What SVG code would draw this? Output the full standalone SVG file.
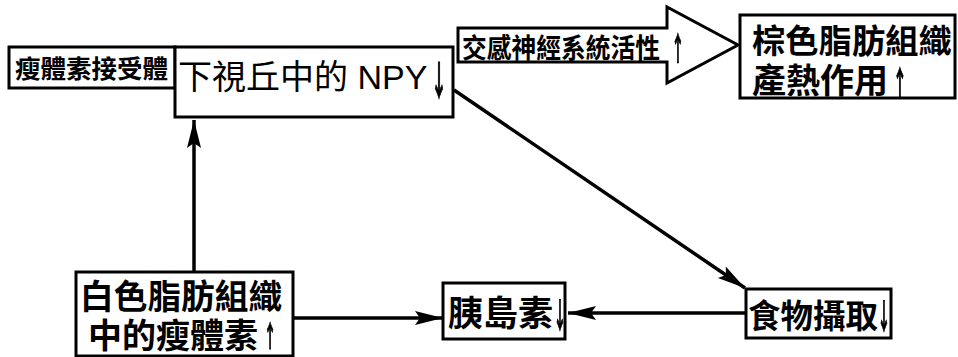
<svg xmlns="http://www.w3.org/2000/svg" width="958" height="357" viewBox="0 0 958 357">
<style>
  .box{fill:#fff;stroke:#000;stroke-width:3}
  .t{font-family:"Liberation Sans","Noto Sans CJK TC",sans-serif;fill:#000}
  .b{font-weight:bold}
  .ar{font-family:"Noto Sans CJK TC",sans-serif;fill:#000;font-weight:bold;text-anchor:middle;stroke:#000;stroke-width:1.2}
  .c{stroke:#000;stroke-width:3.5;fill:none}
</style>
<defs>
  <marker id="ah" markerUnits="userSpaceOnUse" markerWidth="30" markerHeight="16" refX="28" refY="7" orient="auto">
    <path d="M0,0 L28,7 L0,14 L5,7 Z" fill="#000"/>
  </marker>
  <filter id="gray" x="-50%" y="-20%" width="200%" height="140%">
    <feOffset dx="0" dy="0"/>
  </filter>
</defs>
<rect width="958" height="357" fill="#fff"/>
<g id="connectors">
  <line class="c" x1="194" y1="272" x2="194" y2="120" marker-end="url(#ah)"/>
  <line class="c" x1="293" y1="318" x2="443" y2="318" marker-end="url(#ah)"/>
  <line class="c" x1="746" y1="313" x2="568" y2="313" marker-end="url(#ah)"/>
  <line class="c" x1="454" y1="90" x2="745" y2="288" marker-end="url(#ah)"/>
</g>
<g id="leptin-receptor">
  <rect class="box" x="9" y="47" width="166" height="41"/>
  <text class="t b" x="15" y="78" font-size="25.5">瘦體素接受體</text>
</g>
<g id="npy">
  <rect class="box" x="175" y="47" width="278" height="70"/>
  <text class="t" x="178" y="89" font-size="34">下視丘中的 NPY</text>
  <text class="ar" filter="url(#gray)" transform="translate(439,95) scale(0.4,1)" font-size="40">↓</text>
</g>
<g id="sympathetic">
  <polygon class="box" points="458,28 667,28 667,7 738,45 667,83 667,62 458,62"/>
  <text class="t b" transform="translate(462,58) scale(1,1.12)" font-size="24.75">交感神經系統活性</text>
  <text class="ar" filter="url(#gray)" transform="translate(678,60) scale(0.4,1)" font-size="32">↑</text>
</g>
<g id="brown-fat">
  <rect class="box" x="740" y="15" width="215" height="83"/>
  <text class="t b" x="752" y="53" font-size="33.3">棕色脂肪組織</text>
  <text class="t b" x="752" y="93" font-size="34">產熱作用</text>
  <text class="ar" filter="url(#gray)" transform="translate(900,95) scale(0.42,1)" font-size="33">↑</text>
</g>
<g id="white-fat">
  <rect class="box" x="76" y="272" width="217" height="84"/>
  <text class="t b" x="80" y="309" font-size="33.7">白色脂肪組織</text>
  <text class="t b" x="88" y="348" font-size="34">中的瘦體素</text>
  <text class="ar" filter="url(#gray)" transform="translate(270,347) scale(0.42,1)" font-size="29">↑</text>
</g>
<g id="insulin">
  <rect class="box" x="443" y="283" width="122" height="56"/>
  <text class="t b" x="448" y="326" font-size="35">胰島素</text>
  <text class="ar" filter="url(#gray)" transform="translate(560,328) scale(0.38,1)" font-size="34">↓</text>
</g>
<g id="food-intake">
  <rect class="box" x="746" y="289" width="145" height="49"/>
  <text class="t b" x="748" y="328" font-size="32.5">食物攝取</text>
  <text class="ar" filter="url(#gray)" transform="translate(884,329) scale(0.38,1)" font-size="34">↓</text>
</g>
</svg>
